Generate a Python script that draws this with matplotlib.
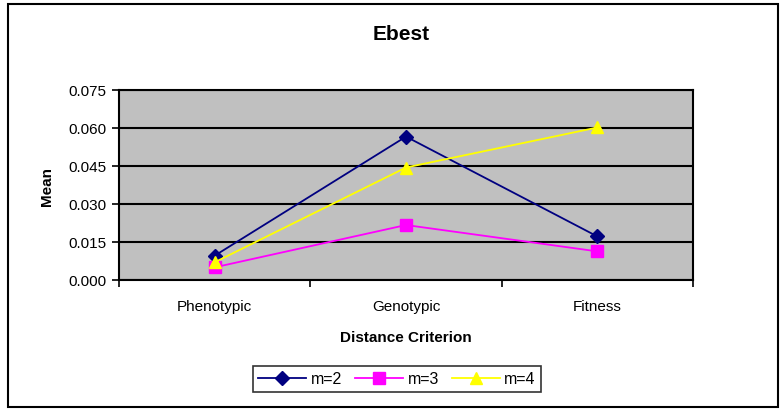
import numpy as np
import matplotlib.pyplot as plt
from matplotlib.patches import Rectangle

plt.rcParams['font.family'] = ['Liberation Sans', 'DejaVu Sans']

categories = ["Phenotypic", "Genotypic", "Fitness"]
m2 = [0.0096, 0.0566, 0.0172]
m3 = [0.0050, 0.0217, 0.0113]
m4 = [0.0070, 0.0444, 0.0602]
yticks = [0.0, 0.015, 0.030, 0.045, 0.060, 0.075]

fig = plt.figure(figsize=(7.82, 4.10), dpi=100)
fig.patches.append(Rectangle((8 / 782, 2 / 410), 770 / 782, 403 / 410,
                             transform=fig.transFigure, fill=False,
                             edgecolor='black', linewidth=1.5))

ax = fig.add_axes([119 / 782, 1 - 281 / 410, 574 / 782, 190 / 410])
ax.set_facecolor('#C0C0C0')

x = np.arange(len(categories))
ax.plot(x, m2, color='#000080', marker='D', markersize=7, linewidth=1.3, label='m=2')
ax.plot(x, m3, color='#FF00FF', marker='s', markersize=8, linewidth=1.3, label='m=3')
ax.plot(x, m4, color='#FFFF00', marker='^', markersize=8, linewidth=1.3, label='m=4')

ax.set_xlim(-0.5, 2.5)
ax.set_ylim(0, 0.075)
ax.set_yticks(yticks)
ax.set_yticklabels([f"{v:.3f}" for v in yticks], fontsize=11)
ax.yaxis.grid(True, color='black', linewidth=1.5)
ax.set_axisbelow(True)

ax.set_xticks([-0.5, 0.5, 1.5, 2.5])
ax.set_xticklabels([])
ax.set_xticks(x, minor=True)
ax.set_xticklabels(categories, minor=True, fontsize=11)
ax.tick_params(axis='x', which='minor', length=0, pad=14)
ax.tick_params(axis='x', which='major', length=5, width=1.2, direction='out')
ax.tick_params(axis='y', length=5, width=1.2, direction='out', pad=4)

for s in ['left', 'bottom', 'top', 'right']:
    ax.spines[s].set_color('black')
    ax.spines[s].set_linewidth(1.5)

ax.set_xlabel("Distance Criterion", fontsize=11, fontweight='bold', labelpad=12)
ax.set_ylabel("Mean", fontsize=11, fontweight='bold', labelpad=10)
fig.text(401 / 782, 1 - 34 / 410, "Ebest", ha='center', va='center',
         fontsize=15, fontweight='bold')

leg = fig.legend(loc='center', bbox_to_anchor=(397 / 782, 1 - 380 / 410), ncol=3,
                 fontsize=11.5, frameon=True, fancybox=False, edgecolor='black',
                 handlelength=3, columnspacing=0.8, handletextpad=0.3,
                 borderpad=0.35)
leg.get_frame().set_linewidth(1.2)

fig.savefig('out.png', dpi=100)
